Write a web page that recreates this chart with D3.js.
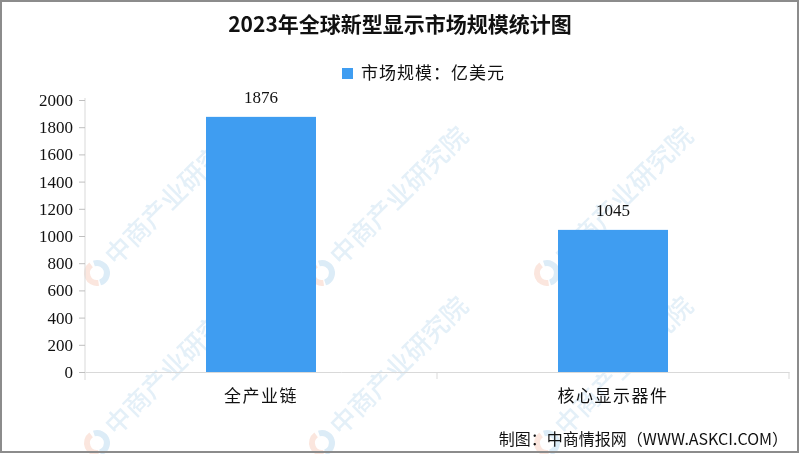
<!DOCTYPE html>
<html><head><meta charset="utf-8">
<script src="https://cdn.jsdelivr.net/npm/d3@7"></script>
<style>body{margin:0;background:#fff}svg{display:block}</style>
</head><body>
<svg id="c" width="800" height="454"></svg>
<script>
const title = "2023年全球新型显示市场规模统计图";
const seriesName = "市场规模：亿美元";
const categories = ["全产业链", "核心显示器件"];
const values = [1876, 1045];
const yTicks = [0, 200, 400, 600, 800, 1000, 1200, 1400, 1600, 1800, 2000];
const source = "制图：中商情报网（WWW.ASKCI.COM）";
const watermark = "中商产业研究院";

const svg = d3.select("#c");
const W = 800, H = 454;
const margin = {left: 85, right: 11, top: 100, bottom: 82};
const cjk = "'Noto Sans CJK SC', 'Noto Sans', sans-serif";
const serif = "'Liberation Serif', 'DejaVu Serif', serif";

// watermarks (only the ones that fit inside the picture)
const wm = svg.append("g").attr("opacity", 0.5);
const wmPos = [[97, 273], [322, 273], [547, 273], [97, 443], [322, 443], [547, 443]];
wmPos.forEach(([x, y]) => {
  const g = wm.append("g").attr("transform", `translate(${x},${y}) rotate(-45)`);
  g.append("path").attr("d", d3.arc()({innerRadius: 7, outerRadius: 13, startAngle: Math.PI * 0.15, endAngle: Math.PI * 1.15}))
    .attr("fill", "#b9d8ee");
  g.append("path").attr("d", d3.arc()({innerRadius: 7, outerRadius: 13, startAngle: Math.PI * 1.2, endAngle: Math.PI * 2.05}))
    .attr("fill", "#f6cdbd");
  g.append("text").attr("x", 18).attr("y", 9).text(watermark)
    .attr("font-family", cjk).attr("font-size", 26).attr("font-weight", 500)
    .attr("fill", "#c9e0f1");
});

const x = d3.scaleBand().domain(categories).range([margin.left, W - margin.right]).paddingInner(0.6875).paddingOuter(0.34375);
const y = d3.scaleLinear().domain([0, 2000]).range([H - margin.bottom, margin.top]);

// bars
svg.append("g").selectAll("rect").data(values).join("rect")
  .attr("x", (d, i) => x(categories[i]))
  .attr("width", x.bandwidth())
  .attr("y", d => y(d))
  .attr("height", d => y(0) - y(d))
  .attr("fill", "#3f9df1");

// value labels
svg.append("g").selectAll("text").data(values).join("text")
  .attr("x", (d, i) => x(categories[i]) + x.bandwidth() / 2)
  .attr("y", d => y(d) - 14)
  .attr("text-anchor", "middle")
  .attr("font-family", serif).attr("font-size", 17).attr("fill", "#111")
  .text(d => d);

// y axis
const yAxis = svg.append("g").attr("transform", `translate(${margin.left},0)`)
  .call(d3.axisLeft(y).tickValues(yTicks).tickSize(6).tickPadding(6).tickFormat(d3.format("d")));
yAxis.select(".domain").attr("stroke", "#d9d9d9").attr("d", `M0,${margin.top - 2}V${y(0) + 8}`);
yAxis.selectAll(".tick line").attr("stroke", "#bfbfbf");
yAxis.selectAll("text").attr("font-family", serif).attr("font-size", 17).attr("fill", "#111");

// x axis
const xAxis = svg.append("g").attr("transform", `translate(0,${y(0)})`)
  .call(d3.axisBottom(x).tickSize(0).tickPadding(18));
xAxis.select(".domain").attr("stroke", "#d9d9d9");
xAxis.selectAll("text").attr("font-family", cjk).attr("font-size", 17).attr("fill", "#111")
  .attr("letter-spacing", 1.5);
const seps = [(x(categories[0]) + x.bandwidth() + x(categories[1])) / 2, W - margin.right];
xAxis.selectAll(".sep").data(seps).join("line").attr("class", "sep")
  .attr("x1", d => d).attr("x2", d => d).attr("y1", 0).attr("y2", 7).attr("stroke", "#d9d9d9");

// title
svg.append("text").attr("x", 400).attr("y", 32).attr("text-anchor", "middle")
  .attr("font-family", cjk).attr("font-weight", 700).attr("font-size", 21).attr("fill", "#111")
  .text(title);

// legend
svg.append("rect").attr("x", 342).attr("y", 68).attr("width", 11).attr("height", 11).attr("fill", "#3f9df1");
svg.append("text").attr("x", 361).attr("y", 79).attr("font-family", cjk).attr("font-size", 17)
  .attr("letter-spacing", 1).attr("fill", "#111").text(seriesName);

// source
svg.append("text").attr("x", 788).attr("y", 445).attr("text-anchor", "end")
  .attr("font-family", cjk).attr("font-size", 16).attr("fill", "#111").text(source);

// frame
svg.append("rect").attr("x", 1).attr("y", 1).attr("width", W - 3).attr("height", H - 3)
  .attr("fill", "none").attr("stroke", "#8c8c8c").attr("stroke-width", 2);
</script>
</body></html>
